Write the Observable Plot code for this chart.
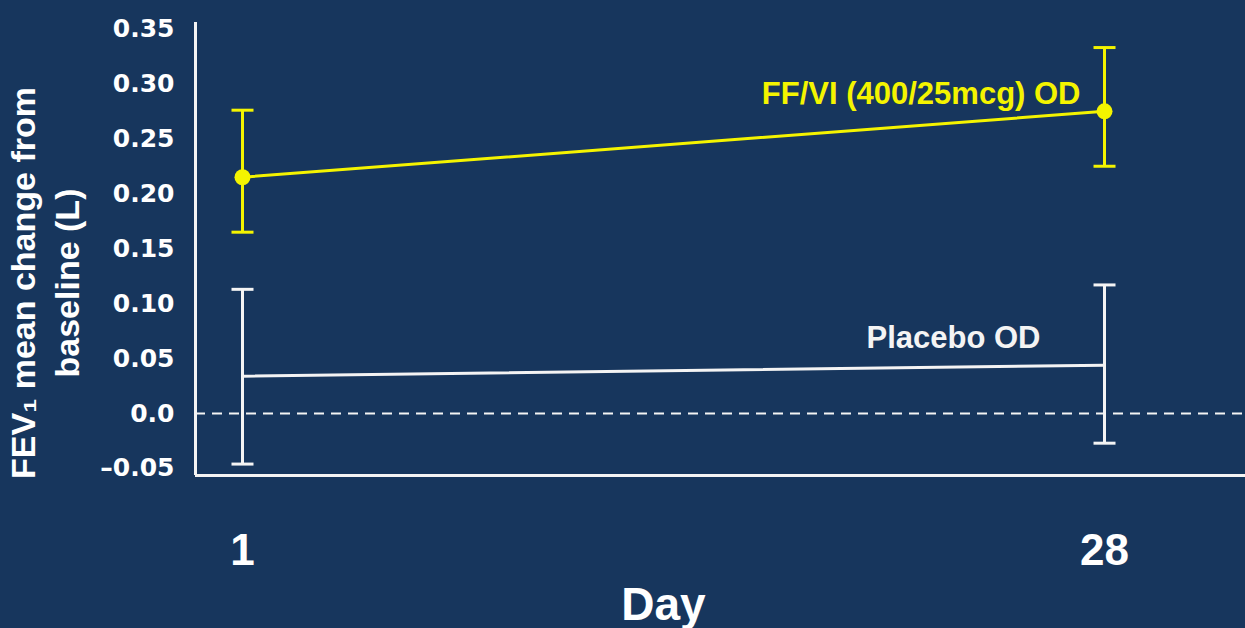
<!DOCTYPE html>
<html>
<head>
<meta charset="utf-8">
<script src="https://cdn.jsdelivr.net/npm/d3@7"></script>
<script src="https://cdn.jsdelivr.net/npm/@observablehq/plot@0.6"></script>
<style>
  html, body { margin: 0; padding: 0; background: #17365d; overflow: hidden; }
</style>
</head>
<body>
<div id="chart"></div>
<script>
// ---- data ----
const days = [1, 28];
const ffviMean = [0.215, 0.275];
const ffviLow = [0.165, 0.225];
const ffviHigh = [0.276, 0.333];
const placeboMean = [0.034, 0.044];
const placeboLow = [-0.046, -0.027];
const placeboHigh = [0.113, 0.117];
const seriesNames = ["FF/VI (400/25mcg) OD", "Placebo OD"];
const yTicks = [-0.05, 0, 0.05, 0.10, 0.15, 0.20, 0.25, 0.30, 0.35];
const yTickLabels = ["–0.05", "0.0", "0.05", "0.10", "0.15", "0.20", "0.25", "0.30", "0.35"];
const xTickLabels = ["1", "28"];
const xLabel = "Day";
const yLabel = "FEV₁ mean change from\nbaseline (L)";

// ---- tables ----
const ffvi = days.map((d, i) => ({day: d, mean: ffviMean[i], low: ffviLow[i], high: ffviHigh[i]}));
const placebo = days.map((d, i) => ({day: d, mean: placeboMean[i], low: placeboLow[i], high: placeboHigh[i]}));
const yLabelMap = new Map(yTicks.map((t, i) => [t, yTickLabels[i]]));
const xLabelMap = new Map(days.map((t, i) => [t, xTickLabels[i]]));

const BG = "#17365d";
const YELLOW = "#f4f400";
const WHITE = "#f4f4f4";
const SANS = "Liberation Sans, Arial, Helvetica, sans-serif";

const xDomain = [-0.472, 32.416];
const yDomain = [-0.0564, 0.3558];

// horizontal cap symbol for error bars
const cap = {
  draw(context, size) {
    const w = Math.sqrt(size / Math.PI);
    context.moveTo(-w, 0);
    context.lineTo(w, 0);
  }
};

function series(data, color, withDots) {
  const marks = [
    Plot.line(data, {x: "day", y: "mean", stroke: color, strokeWidth: 3}),
    Plot.ruleX(data, {x: "day", y1: "low", y2: "high", stroke: color, strokeWidth: 3}),
    Plot.dot(data, {x: "day", y: "high", symbol: cap, r: 11, stroke: color, strokeWidth: 3}),
    Plot.dot(data, {x: "day", y: "low", symbol: cap, r: 11, stroke: color, strokeWidth: 3})
  ];
  if (withDots) marks.push(Plot.dot(data, {x: "day", y: "mean", r: 8, fill: color, stroke: "none"}));
  return marks;
}

const chart = Plot.plot({
  width: 1245,
  height: 628,
  marginLeft: 195,
  marginRight: 0,
  marginTop: 22,
  marginBottom: 153,
  style: {background: BG, color: "white", overflow: "visible"},
  x: {type: "linear", domain: xDomain},
  y: {type: "linear", domain: yDomain},
  marks: [
    // axis lines
    Plot.ruleY([0], {stroke: WHITE, strokeWidth: 2, strokeDasharray: "10,7"}),
    Plot.ruleX([xDomain[0]], {stroke: WHITE, strokeWidth: 3}),
    Plot.ruleY([yDomain[0]], {stroke: WHITE, strokeWidth: 3}),
    // y axis ticks
    Plot.axisY({
      ticks: yTicks,
      tickFormat: d => yLabelMap.get(d),
      tickSize: 0,
      tickPadding: 21,
      fontSize: 25,
      fontFamily: "DejaVu Sans, sans-serif",
      fontWeight: "bold",
      fill: "white",
      label: null
    }),
    // x axis ticks
    Plot.axisX({
      ticks: days,
      tickFormat: d => xLabelMap.get(d),
      tickSize: 0,
      tickPadding: 58,
      fontSize: 44,
      fontFamily: SANS,
      fontWeight: "bold",
      fill: "white",
      label: null
    }),
    // axis titles
    Plot.text([xLabel], {
      frameAnchor: "bottom", lineAnchor: "top", dy: 112, dx: -57,
      fontSize: 46, fontFamily: SANS, fontWeight: "bold", fill: "white"
    }),
    Plot.text([yLabel], {
      frameAnchor: "left", rotate: -90, textAnchor: "middle", lineAnchor: "middle",
      lineHeight: 1.3, dx: -153, dy: 34,
      fontSize: 34, fontFamily: SANS, fontWeight: "bold", fill: "white"
    }),
    // series
    ...series(placebo, WHITE, false),
    ...series(ffvi, YELLOW, true),
    // series labels
    Plot.text(ffvi.slice(-1), {
      x: "day", y: "mean", text: () => seriesNames[0], textAnchor: "end",
      dx: -24, dy: -17, fontSize: 31, fontFamily: SANS, fontWeight: "bold", fill: YELLOW
    }),
    Plot.text(placebo.slice(-1), {
      x: "day", y: "mean", text: () => seriesNames[1], textAnchor: "end",
      dx: -64, dy: -27, fontSize: 31, fontFamily: SANS, fontWeight: "bold", fill: WHITE
    })
  ]
});

document.getElementById("chart").appendChild(chart);
</script>
</body>
</html>
